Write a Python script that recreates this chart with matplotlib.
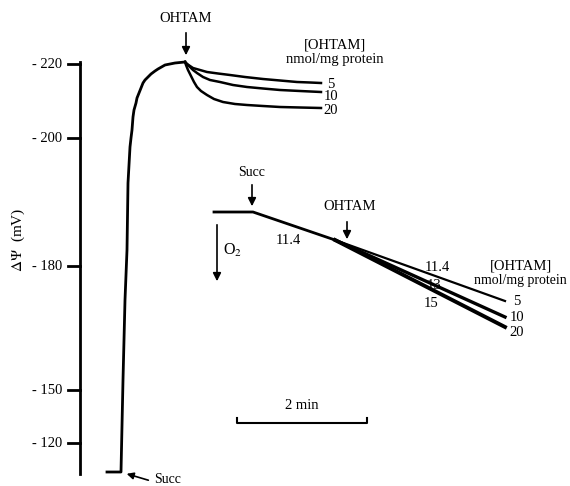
import matplotlib
matplotlib.use('Agg')
import matplotlib.pyplot as plt

plt.rcParams['font.family'] = ['Liberation Serif', 'DejaVu Serif']
plt.rcParams['mathtext.fontset'] = 'stix'

# chart coordinates: x to the right, y downward (trace deflection)
tick_pos = [64, 138, 266, 390, 443]
tick_labels = ['- 220', '- 200', '- 180', '- 150', '- 120']

# membrane potential trace, succinate added then OHTAM at the peak
rise_x = [107, 121, 123, 125, 127, 128, 130, 131, 132, 133, 134, 136, 137, 139, 141,
          143, 145, 148, 151, 155, 158, 165, 170, 175, 180, 185]
rise_y = [472, 472, 380, 300, 250, 183, 147, 138, 130, 117, 110, 103, 98, 93, 88,
          83, 80, 77, 74, 71, 69, 65, 64, 63, 62.5, 62]

decay_x = {
    '5':  [185, 187, 190, 193, 200, 207, 218, 230, 245, 263, 280, 297, 310, 321],
    '10': [185, 187, 190, 193, 197, 203, 210, 220, 233, 247, 263, 280, 300, 321],
    '20': [185, 186, 188, 190, 192, 194, 197, 201, 207, 214, 223, 235, 247, 263, 280, 300, 321],
}
decay_y = {
    '5':  [62, 64, 66, 68, 70, 72, 73.5, 75, 77, 79, 80.5, 82, 82.5, 83],
    '10': [62, 64, 67, 70, 73, 77, 80, 82, 85, 87, 88.5, 90, 91, 92],
    '20': [62, 65, 70, 74, 78, 82, 87, 91, 95, 99, 102, 104, 105, 106, 107, 107.5, 108],
}

# oxygen consumption trace
o2_x = [214, 253, 335]
o2_y = [212, 212, 240]
o2_end_x = 505
o2_end_y = {'5': 301, '10': 317, '20': 327}
o2_rates = ['11.4', '11.4', '13', '15']

fig = plt.figure(figsize=(5.7, 4.86), dpi=100)
ax = fig.add_axes([0, 0, 1, 1])
ax.set_xlim(0, 570)
ax.set_ylim(486, 0)
ax.axis('off')

lw = 2.0
fs = 10.5
# y axis
ax.plot([80, 80], [62, 474], color='black', lw=lw)
for p, lab in zip(tick_pos, tick_labels):
    ax.plot([68, 80], [p, p], color='black', lw=lw)
    ax.text(62, p, lab, ha='right', va='center', fontsize=fs)
ax.text(18, 240, r'$\Delta\Psi$  (mV)', rotation=90, ha='center', va='center', fontsize=fs + 0.5)

# top trace
ax.plot(rise_x, rise_y, color='black', lw=lw, solid_joinstyle='round')
for k in decay_x:
    ax.plot(decay_x[k], decay_y[k], color='black', lw=1.8, solid_joinstyle='round')
for k, yy in zip(['5', '10', '20'], [84, 96, 110]):
    ax.text(331, yy, k, ha='center', va='center', fontsize=fs)
ax.text(335, 45, '[OHTAM]', ha='center', va='center', fontsize=fs)
ax.text(335, 59, 'nmol/mg protein', ha='center', va='center', fontsize=fs)
ax.annotate('', xy=(186, 58), xytext=(186, 30),
            arrowprops=dict(arrowstyle='-|>', color='black', lw=1.2, mutation_scale=12))
ax.text(186, 19, 'OHTAM', ha='center', va='center', fontsize=fs)
ax.annotate('', xy=(124, 473), xytext=(151, 481),
            arrowprops=dict(arrowstyle='-|>', color='black', lw=1.2, mutation_scale=10))
ax.text(154, 479, 'Succ', ha='left', va='center', fontsize=fs - 0.5)

# oxygen trace
ax.plot(o2_x, o2_y, color='black', lw=lw)
for k, w in zip(['5', '10', '20'], [1.6, 2.4, 2.8]):
    ax.plot([o2_x[-1], o2_end_x], [o2_y[-1], o2_end_y[k]], color='black', lw=w)
for k, dy in zip(['5', '10', '20'], [0, 0, 5]):
    ax.text(517, o2_end_y[k] + dy, k, ha='center', va='center', fontsize=fs)
ax.text(521, 266, '[OHTAM]', ha='center', va='center', fontsize=fs)
ax.text(520, 280, 'nmol/mg protein', ha='center', va='center', fontsize=fs - 0.5)
for lab, (xx, yy) in zip(o2_rates, [(288, 240), (437, 267), (434, 285), (431, 303)]):
    ax.text(xx, yy, lab, ha='center', va='center', fontsize=fs)
ax.annotate('', xy=(252, 209), xytext=(252, 182),
            arrowprops=dict(arrowstyle='-|>', color='black', lw=1.2, mutation_scale=12))
ax.text(252, 172, 'Succ', ha='center', va='center', fontsize=fs - 0.5)
ax.annotate('', xy=(347, 242), xytext=(347, 219),
            arrowprops=dict(arrowstyle='-|>', color='black', lw=1.2, mutation_scale=12))
ax.text(350, 206, 'OHTAM', ha='center', va='center', fontsize=fs)
ax.annotate('', xy=(217, 284), xytext=(217, 222),
            arrowprops=dict(arrowstyle='-|>', color='black', lw=1.2, mutation_scale=12))
ax.text(223, 250, r'O$_2$', ha='left', va='center', fontsize=fs + 1)

# time scale bar
ax.plot([237, 237, 367, 367], [418, 423, 423, 418], color='black', lw=1.5)
ax.text(302, 405, '2 min', ha='center', va='center', fontsize=fs)

fig.savefig('out.png', dpi=100)
